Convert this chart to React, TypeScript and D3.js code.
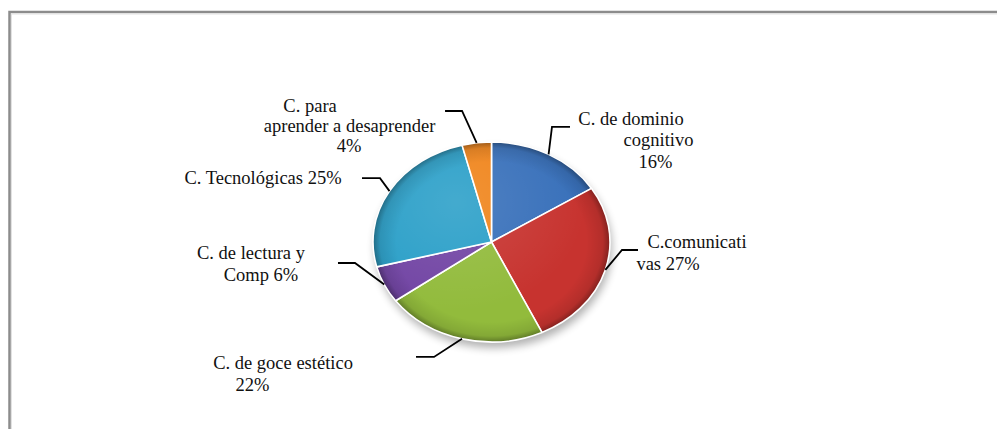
import React from 'react';
import * as d3 from 'd3';

// ── Data ─────────────────────────────────────────────────────────────
const categories = [
  'C. de dominio cognitivo',
  'C.comunicativas',
  'C. de goce estético',
  'C. de lectura y Comp',
  'C. Tecnológicas',
  'C. para aprender a desaprender',
];
const values = [16, 27, 22, 6, 25, 4];
// label text as Excel wrapped it; {p} is replaced by the percentage
const labelLines = [
  ['C. de dominio', 'cognitivo', '{p}'],
  ['C.comunicati', 'vas {p}'],
  ['C. de goce estético', '{p}'],
  ['C. de lectura y', 'Comp {p}'],
  ['C. Tecnológicas {p}'],
  ['C. para', 'aprender a desaprender', '{p}'],
];
const colors = ['#3870ba', '#c7332f', '#92bb3c', '#7245a4', '#2a9fc8', '#f0841a'];

// ── Layout ───────────────────────────────────────────────────────────
const W = 997;
const H = 429;
const cx = 491.5;
const cy = 242;
const rx = 118.5;
const ry = 100;
const R = 100; // arcs drawn on a circle, then stretched to the ellipse

// leader elbow (relative to the slice anchor) and the horizontal run,
// then each text line: centre x and baseline y relative to the leader end
const leaders = [
  { ex: 3.4, ey: -27.4, run: 18, lines: [[61, -2], [88.5, 19.5], [85.5, 41]] },
  { ex: 16.7, ey: -19.9, run: 16, lines: [[59, -2], [30, 20]] },
  { ex: -28, ey: 18.1, run: -18, lines: [[-133, 12], [-163.5, 34]] },
  { ex: -29.3, ey: -21.6, run: -17, lines: [[-87, -4], [-77, 18]] },
  { ex: -9.5, ey: -13, run: -18, lines: [[-99, 6]] },
  { ex: -14.6, ey: -31.8, run: -17, lines: [[-135, 1], [-95.5, 21], [-96, 41]] },
];

const total = d3.sum(values);
const pct = d3.format('.0%');

export default function App() {
  const pie = d3.pie<number>().sort(null).value((d) => d)(values);
  const arc = d3.arc<d3.PieArcDatum<number>>().innerRadius(0).outerRadius(R);

  return (
    <svg
      width={W}
      height={H}
      style={{ position: 'absolute', left: 0, top: 0, background: '#fff' }}
    >
      <defs>
        <filter id="shadow" x="-30%" y="-30%" width="160%" height="160%">
          <feGaussianBlur stdDeviation="4" />
        </filter>
        <radialGradient id="rim" gradientUnits="userSpaceOnUse" cx="0" cy="0" r={R}>
          <stop offset="0" stopColor="#000" stopOpacity="0" />
          <stop offset="0.8" stopColor="#000" stopOpacity="0" />
          <stop offset="0.94" stopColor="#000" stopOpacity="0.1" />
          <stop offset="1" stopColor="#000" stopOpacity="0.35" />
        </radialGradient>
        <radialGradient id="hl" gradientUnits="userSpaceOnUse" cx="-30" cy="-40" r="110">
          <stop offset="0" stopColor="#fff" stopOpacity="0.12" />
          <stop offset="1" stopColor="#fff" stopOpacity="0" />
        </radialGradient>
      </defs>

      {/* frame (only top and left edges are in view) */}
      <rect x={9.5} y={12} width={W + 20} height={H + 20} fill="none" stroke="#8c8c8c" strokeWidth={2.5} />
      <rect x={11.5} y={14} width={W + 20} height={H + 20} fill="none" stroke="#e2e2e2" strokeWidth={1} />

      {/* soft shadow under the pie */}
      <ellipse cx={cx + 2} cy={cy + 6} rx={rx} ry={ry} fill="#000" opacity={0.3} filter="url(#shadow)" />

      <g transform={`translate(${cx},${cy}) scale(${rx / R},${ry / R})`}>
        {pie.map((d, i) => (
          <g key={categories[i]}>
            <path d={arc(d) ?? ''} fill={colors[i]} />
            <path d={arc(d) ?? ''} fill="url(#hl)" />
            <path
              d={arc(d) ?? ''}
              fill="url(#rim)"
              stroke="#fff"
              strokeWidth={1.6}
              strokeLinejoin="round"
              vectorEffect="non-scaling-stroke"
            />
          </g>
        ))}
      </g>

      {/* leader lines and labels */}
      {pie.map((d, i) => {
        const a = (d.startAngle + d.endAngle) / 2;
        const ax = cx + rx * Math.sin(a);
        const ay = cy - ry * Math.cos(a);
        const L = leaders[i];
        const bx = ax + L.ex;
        const by = ay + L.ey;
        const endX = bx + L.run;
        const p = pct(values[i] / total);
        return (
          <g key={`lbl-${i}`}>
            <polyline
              points={`${ax},${ay} ${bx},${by} ${endX},${by}`}
              fill="none"
              stroke="#000"
              strokeWidth={1.8}
            />
            <text
              style={{ fontFamily: "'Liberation Serif'", fontSize: '18.5px' }}
              fill="#111"
              textAnchor="middle"
            >
              {labelLines[i].map((ln, j) => (
                <tspan key={j} x={endX + L.lines[j][0]} y={by + L.lines[j][1]}>
                  {ln.replace('{p}', p)}
                </tspan>
              ))}
            </text>
          </g>
        );
      })}
    </svg>
  );
}
